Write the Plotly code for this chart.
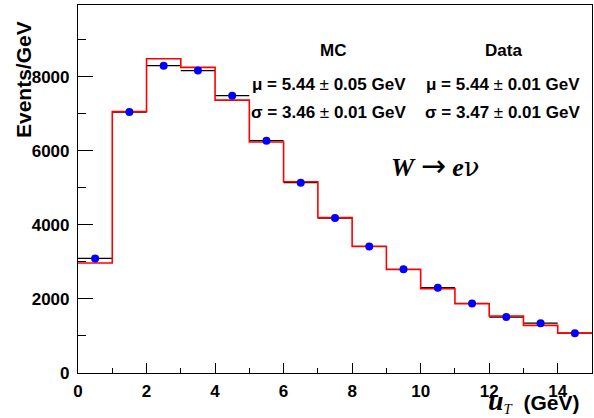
import plotly.graph_objects as go

# ---- data ----
bin_low = [0, 1, 2, 3, 4, 5, 6, 7, 8, 9, 10, 11, 12, 13, 14]
bin_width = 1.0
data_vals = [3095, 7050, 8300, 8170, 7490, 6275, 5140, 4185, 3420, 2800, 2305, 1880, 1510, 1345, 1075]
mc_vals = [2970, 7060, 8490, 8255, 7370, 6240, 5165, 4197, 3418, 2794, 2280, 1872, 1538, 1286, 1077]
x_ticks = [0, 2, 4, 6, 8, 10, 12, 14]
y_ticks = [0, 2000, 4000, 6000, 8000]

centers = [b + bin_width / 2 for b in bin_low]
edges = bin_low + [bin_low[-1] + bin_width]
mc_step = mc_vals + [mc_vals[-1]]

W, H = 594, 418
ML, MR, MT, MB = 78, 2, 5, 45
PW, PH = W - ML - MR, H - MT - MB


def px(xp):
    return (xp - ML) / PW


def py(yp):
    return (H - MB - yp) / PH


fig = go.Figure()

# data horizontal bin-width bars (black)
fig.add_trace(go.Scatter(
    x=centers, y=data_vals, mode="markers",
    marker=dict(size=1, color="rgba(0,0,0,0)"),
    error_x=dict(type="constant", value=bin_width / 2, width=0, color="black", thickness=1.3),
    showlegend=False, hoverinfo="skip"))

# MC histogram (red)
fig.add_trace(go.Scatter(
    x=edges, y=mc_step, mode="lines", line=dict(shape="hv", color="#ff0000", width=1.6),
    showlegend=False))

# data points (blue)
fig.add_trace(go.Scatter(
    x=centers, y=data_vals, mode="markers",
    marker=dict(size=8, color="#0000ff"), showlegend=False))

bold_font = dict(family="Liberation Sans, Arial, sans-serif", size=17, color="black", weight="bold")

fig.update_layout(
    width=W, height=H,
    margin=dict(l=ML, r=MR, t=MT, b=MB, pad=0, autoexpand=False),
    plot_bgcolor="white", paper_bgcolor="white",
    xaxis=dict(range=[0, 15], tickvals=x_ticks, ticktext=[str(v) for v in x_ticks],
               ticks="inside", ticklen=10, tickwidth=1, tickcolor="black",
               minor=dict(dtick=1, tick0=0, ticks="inside", ticklen=5, tickwidth=1, tickcolor="black"),
               showline=True, linecolor="black", linewidth=1.2, mirror=True,
               showgrid=False, zeroline=False, tickfont=bold_font, ticklabelstandoff=2),
    yaxis=dict(range=[0, 9940], tickvals=y_ticks, ticktext=[str(v) for v in y_ticks],
               ticks="inside", ticklen=15, tickwidth=1, tickcolor="black",
               minor=dict(dtick=1000, tick0=0, ticks="inside", ticklen=8, tickwidth=1, tickcolor="black"),
               showline=True, linecolor="black", linewidth=1.2, mirror=True,
               showgrid=False, zeroline=False, tickfont=bold_font, ticklabelstandoff=4),
)

ann = []
ann.append(dict(text="Events/GeV", textangle=-90, xref="paper", yref="paper",
                x=px(24), y=py(80), xanchor="center", yanchor="middle", showarrow=False,
                font=dict(family="Liberation Sans, Arial", size=21, color="black", weight="bold")))
ann.append(dict(text=("<span style=\"font-family:'Liberation Serif';font-size:28px\"><b><i>u</i></b></span>"
                      "<sub><span style=\"font-family:'Liberation Serif';font-weight:normal\"><i>T</i></span></sub>"
                      "  (GeV)"),
                xref="paper", yref="paper", x=px(581), y=py(401), xanchor="right", yanchor="middle",
                showarrow=False,
                font=dict(family="Liberation Sans, Arial", size=21, color="black", weight="bold")))
stat_font = dict(family="Liberation Sans, Arial", size=17, color="black", weight="bold")
pm = "<span style=\"font-weight:normal\">±</span>"
ann.append(dict(text="MC", xref="paper", yref="paper", x=px(333), y=py(50),
                xanchor="center", yanchor="middle", showarrow=False, font=stat_font))
ann.append(dict(text="Data", xref="paper", yref="paper", x=px(503), y=py(50),
                xanchor="center", yanchor="middle", showarrow=False, font=stat_font))
ann.append(dict(text=f"μ = 5.44 {pm} 0.05 GeV", xref="paper", yref="paper", x=px(408), y=py(84),
                xanchor="right", yanchor="middle", showarrow=False, font=stat_font))
ann.append(dict(text=f"σ = 3.46 {pm} 0.01 GeV", xref="paper", yref="paper", x=px(408), y=py(113),
                xanchor="right", yanchor="middle", showarrow=False, font=stat_font))
ann.append(dict(text=f"μ = 5.44 {pm} 0.01 GeV", xref="paper", yref="paper", x=px(582), y=py(84),
                xanchor="right", yanchor="middle", showarrow=False, font=stat_font))
ann.append(dict(text=f"σ = 3.47 {pm} 0.01 GeV", xref="paper", yref="paper", x=px(582), y=py(113),
                xanchor="right", yanchor="middle", showarrow=False, font=stat_font))
ann.append(dict(text=("<b><i>W</i></b> "
                      "<span style=\"font-family:'DejaVu Sans';font-size:30px\">→</span>"
                      " <b><i>e</i></b><span style=\"font-family:'DejaVu Serif'\">ν</span>"),
                xref="paper", yref="paper", x=px(435), y=py(165),
                xanchor="center", yanchor="middle", showarrow=False,
                font=dict(family="Liberation Serif, Times New Roman, serif", size=26, color="black")))
fig.update_layout(annotations=ann)

fig.write_html("out.html", post_script="document.body.style.margin='0';",
               config={"displayModeBar": False})
